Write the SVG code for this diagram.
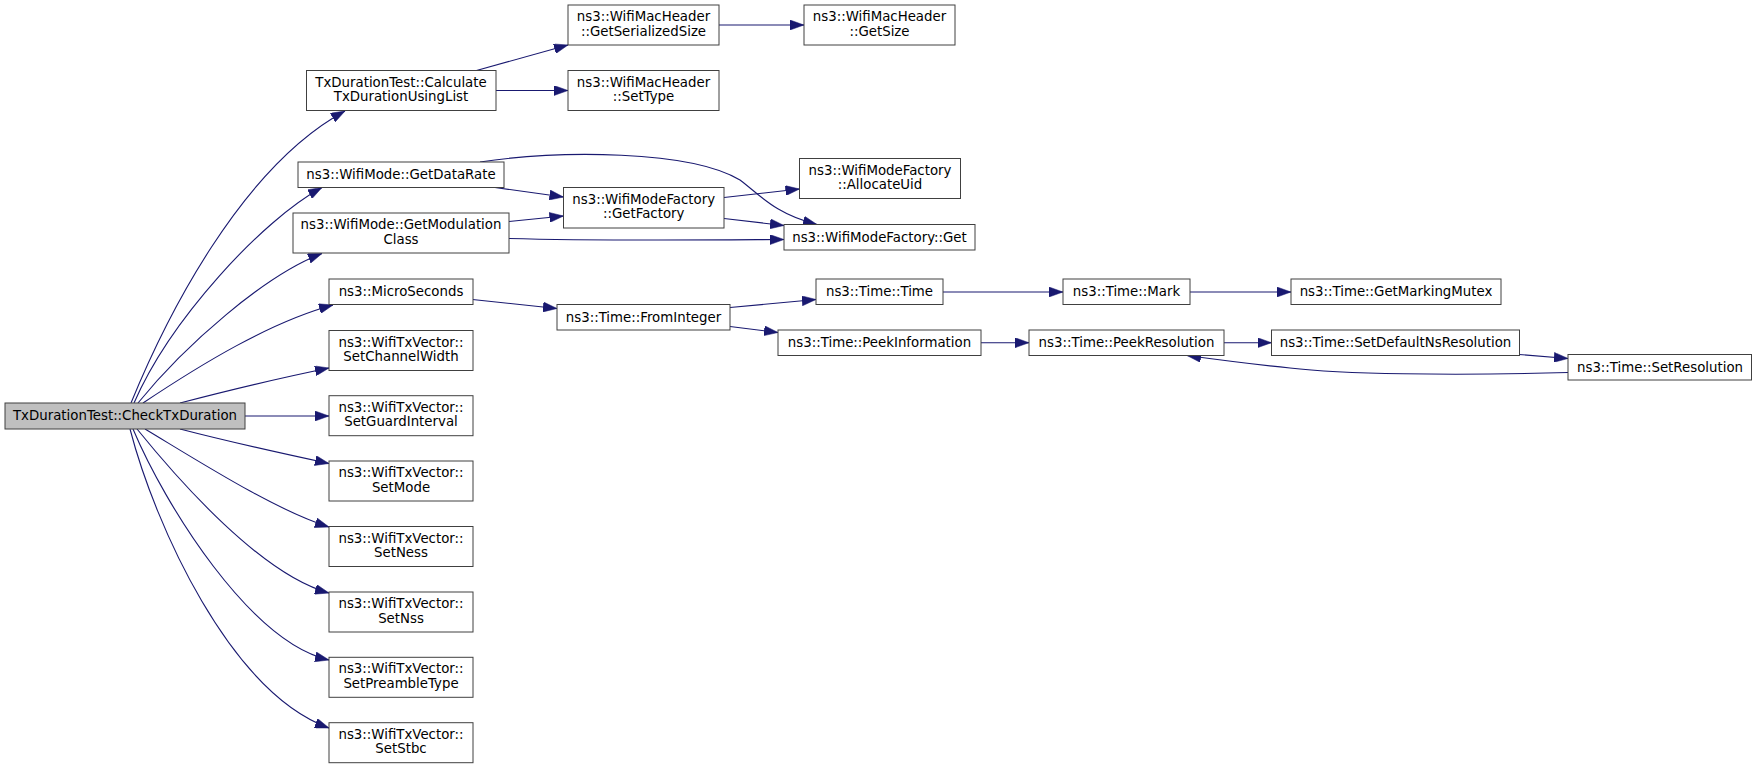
<svg xmlns="http://www.w3.org/2000/svg" width="1757" height="768" viewBox="0 0 1757 768">
<style>
.n rect{fill:#ffffff;stroke:#404040;stroke-width:1}
.n.root rect{fill:#bfbfbf}
.n text{font-family:"DejaVu Sans","Liberation Sans",sans-serif;font-size:13.33px;text-anchor:middle;fill:#000000}
.e path{fill:none;stroke:#191970;stroke-width:1.1;marker-end:url(#ah)}
</style>
<defs>
<marker id="ah" viewBox="0 0 14 10" refX="14" refY="5" markerWidth="14" markerHeight="10" markerUnits="userSpaceOnUse" orient="auto">
<path d="M0,0 L14,5 L0,10 z" fill="#191970" stroke="#191970" stroke-width="0.5"/>
</marker>
</defs>
<rect width="1757" height="768" fill="#ffffff"/>
<g id="edges" class="e">
<path d="M131,403 C165,320 240,168 345,111"/>
<path d="M134,403 C170,320 262,220 322,187.5"/>
<path d="M138,403 C185,345 265,275 322,253.5"/>
<path d="M143,403 C200,365 270,322 333,305"/>
<path d="M180,403 C230,390 280,378 329,368"/>
<path d="M245,416 L329,416"/>
<path d="M180,429 C230,442 280,453 329,463.5"/>
<path d="M145,429 C200,462 275,510 329,527"/>
<path d="M137,429 C180,482 262,575 329,593"/>
<path d="M133,429 C165,505 250,642 329,660"/>
<path d="M130,429 C155,525 230,692 329,728"/>
<path d="M476.5,70.5 L568,45"/>
<path d="M496,90.5 L568,90.5"/>
<path d="M719,25 L804,25"/>
<path d="M495,187.5 L563.5,197"/>
<path d="M480,162 C560,150 690,150 740,180 C760,195 775,214 817,224.5"/>
<path d="M509,221.5 L563.5,216"/>
<path d="M509,238.5 C600,241 700,240 784,239.5"/>
<path d="M724,197.5 L799.5,189"/>
<path d="M724,218.5 L784,225.5"/>
<path d="M472.5,299.5 L557,308.5"/>
<path d="M730,307.5 L816,299.5"/>
<path d="M730,326.5 L778,332.5"/>
<path d="M943,292 L1063,292"/>
<path d="M1190,292 L1291,292"/>
<path d="M981,342.7 L1029,342.7"/>
<path d="M1224,342.7 L1271.5,342.7"/>
<path d="M1519,354.5 L1568,358.5"/>
<path d="M1568,372.5 C1450,376 1340,374 1290,368 C1250,364 1220,360 1187,355.5"/>
</g>
<g id="n_check" class="n root"><rect x="5" y="403" width="240" height="26"/><text x="125" y="420">TxDurationTest::CheckTxDuration</text></g>
<g id="n_calc" class="n"><rect x="306.5" y="70.5" width="189.5" height="40"/><text x="401" y="86.5">TxDurationTest::Calculate</text><text x="401" y="101">TxDurationUsingList</text></g>
<g id="n_getser" class="n"><rect x="568" y="5" width="151" height="40"/><text x="643.5" y="21">ns3::WifiMacHeader</text><text x="643.5" y="35.7">::GetSerializedSize</text></g>
<g id="n_settype" class="n"><rect x="568" y="70.5" width="151" height="40"/><text x="643.5" y="86.5">ns3::WifiMacHeader</text><text x="643.5" y="101">::SetType</text></g>
<g id="n_getsize" class="n"><rect x="804" y="5" width="151" height="40"/><text x="879.5" y="21">ns3::WifiMacHeader</text><text x="879.5" y="35.7">::GetSize</text></g>
<g id="n_datarate" class="n"><rect x="298" y="162" width="206" height="25.5"/><text x="401" y="179">ns3::WifiMode::GetDataRate</text></g>
<g id="n_modclass" class="n"><rect x="293" y="213" width="216" height="40"/><text x="401" y="229">ns3::WifiMode::GetModulation</text><text x="401" y="243.7">Class</text></g>
<g id="n_getfactory" class="n"><rect x="563.5" y="187.5" width="160.5" height="40.5"/><text x="643.7" y="203.5">ns3::WifiModeFactory</text><text x="643.7" y="218">::GetFactory</text></g>
<g id="n_alloc" class="n"><rect x="799.5" y="158.5" width="161" height="40"/><text x="880" y="174.5">ns3::WifiModeFactory</text><text x="880" y="189">::AllocateUid</text></g>
<g id="n_get" class="n"><rect x="784" y="224.5" width="191" height="25.5"/><text x="879.5" y="241.5">ns3::WifiModeFactory::Get</text></g>
<g id="n_micro" class="n"><rect x="329" y="279" width="144" height="25.5"/><text x="401" y="296">ns3::MicroSeconds</text></g>
<g id="n_fromint" class="n"><rect x="557" y="304.5" width="173" height="25.5"/><text x="643.5" y="321.5">ns3::Time::FromInteger</text></g>
<g id="n_time" class="n"><rect x="816" y="279" width="127" height="25.5"/><text x="879.5" y="296">ns3::Time::Time</text></g>
<g id="n_peekinfo" class="n"><rect x="778" y="330" width="203" height="25.5"/><text x="879.5" y="347">ns3::Time::PeekInformation</text></g>
<g id="n_mark" class="n"><rect x="1063" y="279" width="127" height="25.5"/><text x="1126.5" y="296">ns3::Time::Mark</text></g>
<g id="n_peekres" class="n"><rect x="1029" y="330" width="195" height="25.5"/><text x="1126.5" y="347">ns3::Time::PeekResolution</text></g>
<g id="n_mutex" class="n"><rect x="1291" y="279" width="210" height="25.5"/><text x="1396" y="296">ns3::Time::GetMarkingMutex</text></g>
<g id="n_setdef" class="n"><rect x="1271.5" y="330" width="248" height="25.5"/><text x="1395.5" y="347">ns3::Time::SetDefaultNsResolution</text></g>
<g id="n_setres" class="n"><rect x="1568" y="354.5" width="183.5" height="25.5"/><text x="1660" y="371.5">ns3::Time::SetResolution</text></g>
<g id="n_chw" class="n"><rect x="329" y="330.5" width="144" height="40"/><text x="401" y="346.5">ns3::WifiTxVector::</text><text x="401" y="361.2">SetChannelWidth</text></g>
<g id="n_gi" class="n"><rect x="329" y="395.7" width="144" height="40"/><text x="401" y="411.7">ns3::WifiTxVector::</text><text x="401" y="426.4">SetGuardInterval</text></g>
<g id="n_mode" class="n"><rect x="329" y="461" width="144" height="40"/><text x="401" y="477">ns3::WifiTxVector::</text><text x="401" y="491.7">SetMode</text></g>
<g id="n_ness" class="n"><rect x="329" y="526.5" width="144" height="40"/><text x="401" y="542.5">ns3::WifiTxVector::</text><text x="401" y="557.2">SetNess</text></g>
<g id="n_nss" class="n"><rect x="329" y="592" width="144" height="40"/><text x="401" y="608">ns3::WifiTxVector::</text><text x="401" y="622.7">SetNss</text></g>
<g id="n_pre" class="n"><rect x="329" y="657.3" width="144" height="40"/><text x="401" y="673.3">ns3::WifiTxVector::</text><text x="401" y="688">SetPreambleType</text></g>
<g id="n_stbc" class="n"><rect x="329" y="722.7" width="144" height="40"/><text x="401" y="738.7">ns3::WifiTxVector::</text><text x="401" y="753.4">SetStbc</text></g>
</svg>
